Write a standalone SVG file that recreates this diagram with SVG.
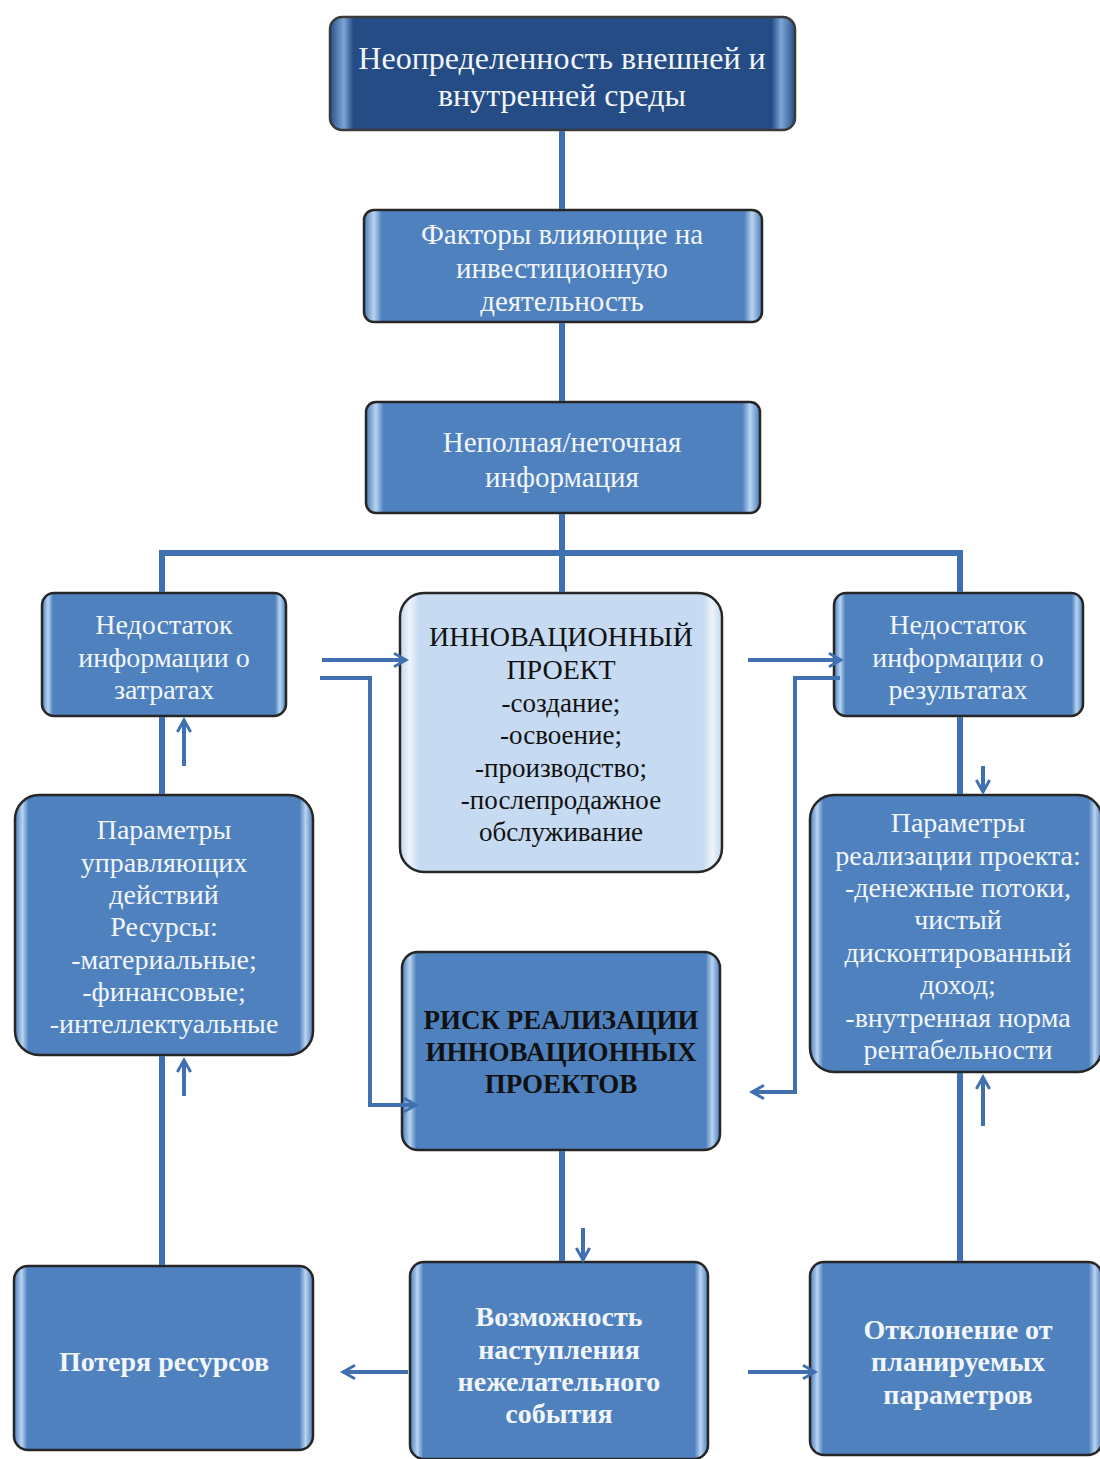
<svg xmlns="http://www.w3.org/2000/svg" width="1100" height="1459" viewBox="0 0 1100 1459">
<style>
.box{fill:url(#gm);stroke:#262626;stroke-width:2.5}
.dark{fill:url(#gd);stroke:#3a3a3a;stroke-width:2.5}
.light{fill:url(#gl);stroke:#262626;stroke-width:2.5}
.t{font-family:"Liberation Serif","Times New Roman",serif;text-anchor:middle;fill:#f2f6fb}
.tb{font-family:"Liberation Serif","Times New Roman",serif;text-anchor:middle;fill:#f2f6fb;font-weight:bold}
.tk{font-family:"Liberation Serif","Times New Roman",serif;text-anchor:middle;fill:#111}
.ln{fill:none;stroke:#4070b0;stroke-width:6}
.ar{fill:none;stroke:#4070b0;stroke-width:4;marker-end:url(#ah)}
.th{fill:none;stroke:#4070b0;stroke-width:4;marker-end:url(#ah)}
</style>
<defs>
<linearGradient id="gm" x1="0" y1="0" x2="1" y2="0">
<stop offset="0" stop-color="#4a7cba"/>
<stop offset="0.025" stop-color="#b9d4f1"/>
<stop offset="0.045" stop-color="#4f81bf"/>
<stop offset="0.955" stop-color="#4f81bf"/>
<stop offset="0.975" stop-color="#b9d4f1"/>
<stop offset="1" stop-color="#4a7cba"/>
</linearGradient>
<linearGradient id="gd" x1="0" y1="0" x2="1" y2="0">
<stop offset="0" stop-color="#25508a"/>
<stop offset="0.03" stop-color="#7fa6d6"/>
<stop offset="0.05" stop-color="#254c84"/>
<stop offset="0.95" stop-color="#254c84"/>
<stop offset="0.97" stop-color="#7fa6d6"/>
<stop offset="1" stop-color="#25508a"/>
</linearGradient>
<linearGradient id="gl" x1="0" y1="0" x2="1" y2="0">
<stop offset="0" stop-color="#c3d7ef"/>
<stop offset="0.03" stop-color="#eef4fb"/>
<stop offset="0.06" stop-color="#c6daf1"/>
<stop offset="0.94" stop-color="#c6daf1"/>
<stop offset="0.97" stop-color="#eef4fb"/>
<stop offset="1" stop-color="#c3d7ef"/>
</linearGradient>
<marker id="ah" viewBox="0 0 12 12" refX="10" refY="6" markerWidth="16" markerHeight="16" markerUnits="userSpaceOnUse" orient="auto">
<path d="M1,1 L10,6 L1,11" fill="none" stroke="#4070b0" stroke-width="2.2"/>
</marker>
</defs>

<g id="n-uncertainty">
<rect class="dark" x="330" y="17" width="465" height="113" rx="12"/>
<text class="t" x="562" y="69" font-size="32">Неопределенность внешней и</text>
<text class="t" x="562" y="106" font-size="32">внутренней среды</text>
</g>

<g id="n-factors">
<rect class="box" x="364" y="210" width="398" height="112" rx="10"/>
<text class="t" x="562" y="244" font-size="29">Факторы влияющие на</text>
<text class="t" x="562" y="278" font-size="29">инвестиционную</text>
<text class="t" x="562" y="311" font-size="29">деятельность</text>
</g>

<g id="n-incomplete">
<rect class="box" x="366" y="402" width="394" height="111" rx="10"/>
<text class="t" x="562" y="452" font-size="29">Неполная/неточная</text>
<text class="t" x="562" y="487" font-size="29">информация</text>
</g>

<g id="n-costs">
<rect class="box" x="42" y="593" width="244" height="123" rx="12"/>
<text class="t" x="164" y="634" font-size="28">Недостаток</text>
<text class="t" x="164" y="667" font-size="28">информации о</text>
<text class="t" x="164" y="699" font-size="28">затратах</text>
</g>

<g id="n-project">
<rect class="light" x="400" y="593" width="322" height="279" rx="24"/>
<text class="tk" x="561" y="646" font-size="28">ИННОВАЦИОННЫЙ</text>
<text class="tk" x="561" y="679" font-size="28">ПРОЕКТ</text>
<text class="tk" x="561" y="712" font-size="27">-создание;</text>
<text class="tk" x="561" y="744" font-size="27">-освоение;</text>
<text class="tk" x="561" y="777" font-size="27">-производство;</text>
<text class="tk" x="561" y="809" font-size="27">-послепродажное</text>
<text class="tk" x="561" y="841" font-size="27">обслуживание</text>
</g>

<g id="n-results">
<rect class="box" x="834" y="593" width="249" height="123" rx="12"/>
<text class="t" x="958" y="634" font-size="28">Недостаток</text>
<text class="t" x="958" y="667" font-size="28">информации о</text>
<text class="t" x="958" y="699" font-size="28">результатах</text>
</g>

<g id="n-control">
<rect class="box" x="15" y="795" width="298" height="260" rx="24"/>
<text class="t" x="164" y="839" font-size="28">Параметры</text>
<text class="t" x="164" y="872" font-size="28">управляющих</text>
<text class="t" x="164" y="904" font-size="28">действий</text>
<text class="t" x="164" y="936" font-size="28">Ресурсы:</text>
<text class="t" x="164" y="969" font-size="28">-материальные;</text>
<text class="t" x="164" y="1001" font-size="28">-финансовые;</text>
<text class="t" x="164" y="1033" font-size="28">-интеллектуальные</text>
</g>

<g id="n-implementation">
<rect class="box" x="810" y="795" width="292" height="277" rx="24"/>
<text class="t" x="958" y="832" font-size="28">Параметры</text>
<text class="t" x="958" y="865" font-size="28">реализации проекта:</text>
<text class="t" x="958" y="897" font-size="28">-денежные потоки,</text>
<text class="t" x="958" y="929" font-size="28">чистый</text>
<text class="t" x="958" y="962" font-size="28">дисконтированный</text>
<text class="t" x="958" y="994" font-size="28">доход;</text>
<text class="t" x="958" y="1027" font-size="28">-внутренная норма</text>
<text class="t" x="958" y="1059" font-size="28">рентабельности</text>
</g>

<g id="n-risk">
<rect class="box" x="402" y="952" width="318" height="198" rx="16"/>
<text class="tk" x="561" y="1029" font-size="27" font-weight="bold">РИСК РЕАЛИЗАЦИИ</text>
<text class="tk" x="561" y="1061" font-size="27" font-weight="bold">ИННОВАЦИОННЫХ</text>
<text class="tk" x="561" y="1093" font-size="27" font-weight="bold">ПРОЕКТОВ</text>
</g>

<g id="n-loss">
<rect class="box" x="14" y="1266" width="299" height="184" rx="14"/>
<text class="tb" x="164" y="1371" font-size="28">Потеря ресурсов</text>
</g>

<g id="n-event">
<rect class="box" x="410" y="1262" width="298" height="197" rx="14"/>
<text class="tb" x="559" y="1326" font-size="28">Возможность</text>
<text class="tb" x="559" y="1359" font-size="28">наступления</text>
<text class="tb" x="559" y="1391" font-size="28">нежелательного</text>
<text class="tb" x="559" y="1423" font-size="28">события</text>
</g>

<g id="n-deviation">
<rect class="box" x="810" y="1262" width="292" height="193" rx="14"/>
<text class="tb" x="958" y="1339" font-size="28">Отклонение от</text>
<text class="tb" x="958" y="1371" font-size="28">планируемых</text>
<text class="tb" x="958" y="1404" font-size="28">параметров</text>
</g>

<g id="connectors">
<line class="ln" x1="562" y1="131" x2="562" y2="209"/>
<line class="ln" x1="562" y1="323" x2="562" y2="401"/>
<line class="ln" x1="562" y1="514" x2="562" y2="592"/>
<polyline class="ln" points="162,592 162,553 960,553 960,592"/>
<line class="ln" x1="162" y1="717" x2="162" y2="794"/>
<line class="ln" x1="162" y1="1056" x2="162" y2="1265"/>
<line class="ln" x1="960" y1="717" x2="960" y2="794"/>
<line class="ln" x1="960" y1="1073" x2="960" y2="1261"/>
<line class="ln" x1="562" y1="1151" x2="562" y2="1261"/>
<line class="ar" x1="184" y1="766" x2="184" y2="720"/>
<line class="ar" x1="184" y1="1096" x2="184" y2="1060"/>
<line class="ar" x1="983" y1="766" x2="983" y2="792"/>
<line class="ar" x1="983" y1="1126" x2="983" y2="1077"/>
<line class="ar" x1="583" y1="1228" x2="583" y2="1260"/>
<line class="ar" x1="408" y1="1372" x2="343" y2="1372"/>
<line class="ar" x1="748" y1="1372" x2="815" y2="1372"/>
<line class="ar" x1="322" y1="660" x2="406" y2="660"/>
<line class="ar" x1="748" y1="660" x2="841" y2="660"/>
<polyline class="th" points="320,678 370,678 370,1105 416,1105"/>
<polyline class="th" points="840,678 795,678 795,1092 752,1092"/>
</g>
</svg>
